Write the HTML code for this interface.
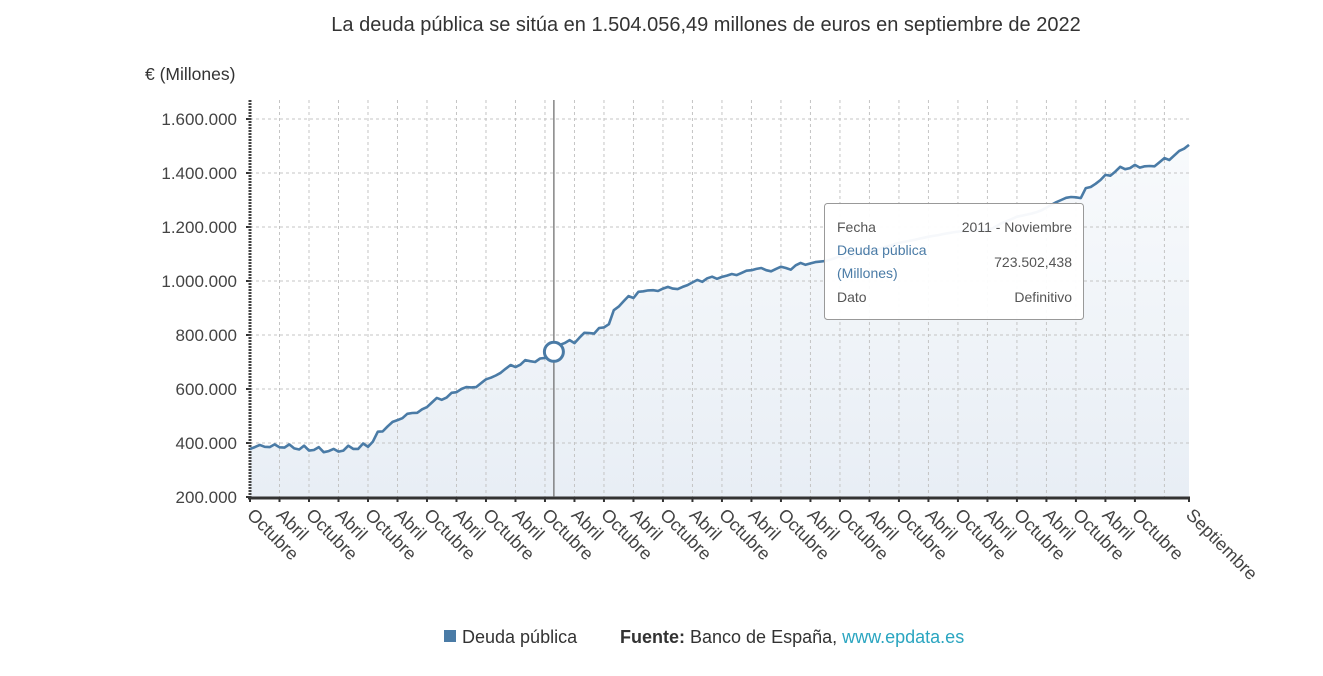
<!DOCTYPE html>
<html><head><meta charset="utf-8"><style>
body{margin:0;background:#fff;width:1323px;height:671px;overflow:hidden;font-family:"Liberation Sans",sans-serif}
svg text{font-family:"Liberation Sans",sans-serif}
</style></head><body>
<svg id="chart" width="1323" height="671" xmlns="http://www.w3.org/2000/svg">
<defs><linearGradient id="ag" x1="0" y1="0" x2="0" y2="1"><stop offset="0" stop-color="#f8fafc"/><stop offset="1" stop-color="#e8eef5"/></linearGradient></defs>
<text x="706" y="31" text-anchor="middle" font-size="20" fill="#333">La deuda pública se sitúa en 1.504.056,49 millones de euros en septiembre de 2022</text>
<text x="145" y="80" font-size="17.5" fill="#333">€ (Millones)</text>
<g id="grid"></g><g id="area"></g><g id="axes"></g><g id="marks"></g>
<g>
<rect x="824.5" y="203.5" width="259" height="116" rx="3" fill="#fff" fill-opacity="0.95" stroke="#999"/>
<text x="837" y="232" font-size="14" fill="#555">Fecha</text>
<text x="1072" y="232" font-size="14" fill="#555" text-anchor="end">2011 - Noviembre</text>
<text x="837" y="255" font-size="14" fill="#4a7ba6">Deuda pública</text>
<text x="837" y="278" font-size="14" fill="#4a7ba6">(Millones)</text>
<text x="1072" y="267" font-size="14" fill="#555" text-anchor="end">723.502,438</text>
<text x="837" y="302" font-size="14" fill="#555">Dato</text>
<text x="1072" y="302" font-size="14" fill="#555" text-anchor="end">Definitivo</text>
</g>
<g>
<rect x="444" y="630" width="12" height="12" fill="#4a7ba6"/>
<text x="462" y="643" font-size="18" fill="#333">Deuda pública</text>
<text x="620" y="643" font-size="18" fill="#333"><tspan font-weight="bold">Fuente:</tspan> Banco de España, <tspan fill="#2aa5c0">www.epdata.es</tspan></text>
</g>
</svg>
<script>
const deuda=[378,385,393,386,385,395,384,383,395,380,376,390,372,374,385,366,370,378,368,372,390,378,378,398,386,
405,442,443,462,478,485,492,508,511,512,525,533,550,567,560,568,586,588,600,607,606,607,622,636,642,650,660,675,689,681,690,707,703,700,713,715,
723,745,763,770,781,770,790,808,807,805,826,828,840,892,905,925,944,937,960,962,965,966,963,972,978,972,970,978,985,995,1004,997,1010,1016,1008,
1015,1020,1026,1022,1030,1038,1040,1045,1048,1040,1036,1045,1053,1048,1042,1058,1067,1060,1065,1070,1072,1074,1079,1085,1092,1081,1090,1100,1102,1105,
1110,1115,1118,1125,1130,1136,1141,1145,1148,1152,1156,1160,1164,1167,1170,1174,1177,1180,1183,1184,1186,1187,1188,1189,1190,1195,1205,1215,1222,1230,
1238,1242,1246,1250,1255,1262,1272,1282,1292,1300,1308,1311,1310,1307,1344,1348,1360,1374,1393,1390,1405,1423,1414,1418,1430,1420,1425,1426,1425,1440,
1455,1448,1465,1482,1490,1504];
const yTicks=[200,400,600,800,1000,1200,1400,1600];
const yTickLabels=["200.000","400.000","600.000","800.000","1.000.000","1.200.000","1.400.000","1.600.000"];
const xLabelIdx=[0,6,12,18,24,30,36,42,48,54,60,66,72,78,84,90,96,102,108,114,120,126,132,138,144,150,156,162,168,174,180,191];
const xLabels=["Octubre","Abril","Octubre","Abril","Octubre","Abril","Octubre","Abril","Octubre","Abril","Octubre","Abril","Octubre","Abril","Octubre","Abril","Octubre","Abril","Octubre","Abril","Octubre","Abril","Octubre","Abril","Octubre","Abril","Octubre","Abril","Octubre","Abril","Octubre","Septiembre"];
const hoverIdx=61;
const NS="http://www.w3.org/2000/svg";
const L=250,R=1189,T=100,B=497;
const x=i=>L+i*(R-L)/(deuda.length-1);
const y=v=>B-(v-200)*(B-119)/1400;
function mk(tag,attrs,parent){const e=document.createElementNS(NS,tag);for(const k in attrs)e.setAttribute(k,attrs[k]);parent.appendChild(e);return e;}
const grid=document.getElementById('grid'),axes=document.getElementById('axes'),marks=document.getElementById('marks'),area=document.getElementById('area');
yTicks.forEach((t,k)=>{
 const g=mk('line',{x1:L,x2:R,y1:y(t),y2:y(t),stroke:'#c4c4c4','stroke-dasharray':'3,3'},grid);
 
 
 const tx=mk('text',{x:237,y:y(t)+6,'text-anchor':'end','font-size':17,fill:'#444'},axes);
 tx.textContent=yTickLabels[k];
 
 
 mk('line',{x1:L-4,x2:L,y1:y(t),y2:y(t),stroke:'#333','stroke-width':2},axes);
});
for(let i=6;i<deuda.length;i+=6){
 const g=mk('line',{x1:x(i),x2:x(i),y1:T,y2:B,stroke:'#c4c4c4','stroke-dasharray':'3,3'},grid);
 
 
}
let d='M'+x(0)+','+y(deuda[0]);deuda.forEach((v,i)=>{if(i)d+='L'+x(i).toFixed(1)+','+y(v).toFixed(1);});
const ar=mk('path',{d:d+'L'+x(deuda.length-1)+','+B+'L'+x(0)+','+B+'Z',fill:'url(#ag)'},area);


grid.parentNode.insertBefore(area,grid);
const ax=mk('line',{x1:L,x2:L,y1:T,y2:B+2,stroke:'#444','stroke-width':3,'stroke-dasharray':'2,1'},axes);


const bx=mk('line',{x1:L-2,x2:R+1,y1:B+1,y2:B+1,stroke:'#333','stroke-width':3},axes);


xLabelIdx.forEach((i,k)=>{
 mk('line',{x1:x(i),x2:x(i),y1:B,y2:B+5,stroke:'#333','stroke-width':2},axes);
 const tx=mk('text',{x:x(i)-4,y:B+19,'font-size':18,fill:'#444',transform:'rotate(45 '+(x(i)-4)+' '+(B+19)+')'},axes);
 tx.textContent=xLabels[k];
 
 
});
const cl=mk('line',{x1:x(hoverIdx)+4,x2:x(hoverIdx)+4,y1:T,y2:B,stroke:'#666','stroke-width':1.2},marks);


const ln=mk('path',{d:d,fill:'none',stroke:'#4a7ba6','stroke-width':2.6,'stroke-linejoin':'round'},marks);


const mc=mk('circle',{cx:x(hoverIdx)+4,cy:y(deuda[hoverIdx])-4,r:9.5,fill:'#fff',stroke:'#4a7ba6','stroke-width':3},marks);


</script>
</body></html>
